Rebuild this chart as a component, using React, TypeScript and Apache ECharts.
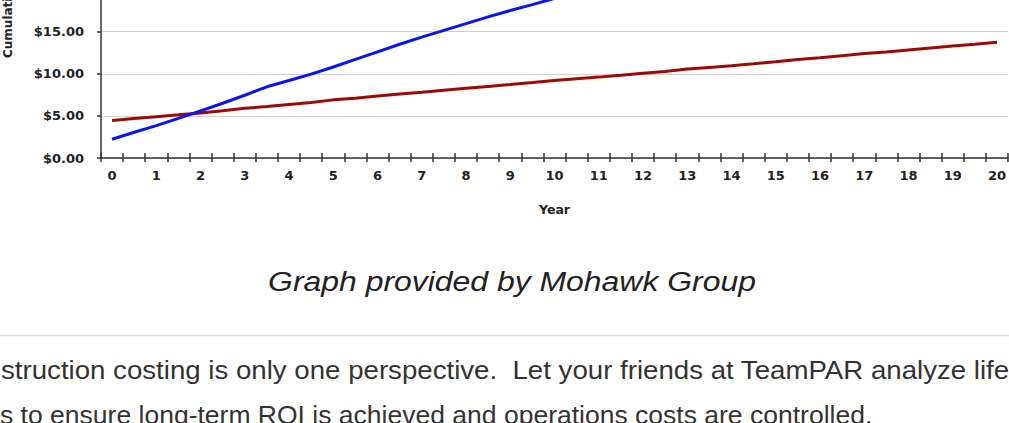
import React, { useEffect, useRef } from "react";
import * as echarts from "echarts";

const years: string[] = [
  "0", "0.5", "1", "1.5", "2", "2.5", "3", "3.5", "4", "4.5",
  "5", "5.5", "6", "6.5", "7", "7.5", "8", "8.5", "9", "9.5",
  "10", "10.5", "11", "11.5", "12", "12.5", "13", "13.5", "14", "14.5",
  "15", "15.5", "16", "16.5", "17", "17.5", "18", "18.5", "19", "19.5", "20",
];

const blueSeries: number[] = [
  2.22, 3.05, 3.85, 4.7, 5.6, 6.5, 7.45, 8.45, 9.2, 9.95,
  10.8, 11.7, 12.6, 13.5, 14.35, 15.15, 15.95, 16.75, 17.5, 18.2,
  18.95, 19.75, 20.5, 21.3, 22.1, 22.9, 23.7, 24.5, 25.3, 26.1,
  26.9, 27.7, 28.5, 29.3, 30.1, 30.9, 31.7, 32.5, 33.3, 34.1, 34.9,
];

const redSeries: number[] = [
  4.45, 4.68, 4.9, 5.12, 5.35, 5.6, 5.9, 6.1, 6.35, 6.6,
  6.9, 7.1, 7.35, 7.6, 7.8, 8.05, 8.28, 8.5, 8.72, 8.95,
  9.2, 9.4, 9.6, 9.82, 10.05, 10.28, 10.55, 10.75, 10.95, 11.18,
  11.42, 11.68, 11.9, 12.15, 12.4, 12.58, 12.82, 13.05, 13.28, 13.5, 13.75,
];

const yAxisName = "Cumulative Cost ($/SF)";
const xAxisName = "Year";
const caption = "Graph provided by Mohawk Group";
const bodyLine1 = "struction costing is only one perspective.  Let your friends at TeamPAR analyze life";
const bodyLine2 = "s to ensure long-term ROI is achieved and operations costs are controlled.";

const chartFont = "DejaVu Sans";
const textFont = "Liberation Sans";

// the chart canvas extends above the visible window (the reference is cropped at the top)
const SHIFT = 189;

export default function App() {
  const ref = useRef<HTMLDivElement>(null);

  useEffect(() => {
    if (!ref.current) return;
    const chart = echarts.init(ref.current, undefined, { renderer: "svg" });
    chart.setOption({
      animation: false,
      backgroundColor: "#ffffff",
      grid: { left: 101, top: 10, width: 907, height: 337, containLabel: false },
      xAxis: [
        {
          type: "category",
          data: years,
          boundaryGap: true,
          name: xAxisName,
          nameLocation: "middle",
          nameGap: 45,
          nameTextStyle: { fontFamily: chartFont, fontWeight: "bold", fontSize: 12.5, color: "#222" },
          axisLine: { show: true, lineStyle: { color: "#333", width: 1.5 } },
          axisTick: { show: true, interval: 0, length: 4, inside: false, lineStyle: { color: "#333", width: 1.5 } },
          axisLabel: {
            interval: 1,
            margin: 11,
            fontFamily: chartFont,
            fontWeight: "bold",
            fontSize: 13,
            color: "#222",
          },
          splitLine: { show: false },
        },
        {
          type: "category",
          data: years,
          boundaryGap: true,
          position: "bottom",
          axisLine: { show: false },
          axisTick: { show: true, interval: 0, length: 5, inside: true, lineStyle: { color: "#333", width: 1.5 } },
          axisLabel: { show: false },
          splitLine: { show: false },
        },
      ],
      yAxis: {
        type: "value",
        min: 0,
        max: 40,
        interval: 5,
        axisLine: { show: true, lineStyle: { color: "#333", width: 1.5 } },
        axisTick: { show: true, length: 4, lineStyle: { color: "#333", width: 1.5 } },
        axisLabel: {
          margin: 17,
          fontFamily: chartFont,
          fontWeight: "bold",
          fontSize: 13,
          color: "#222",
          formatter: (v: number) => "$" + v.toFixed(2),
        },
        splitLine: { show: true, lineStyle: { color: "#cfcfcf", width: 1 } },
      },
      series: [
        {
          name: "Blue",
          type: "line",
          xAxisIndex: 0,
          data: blueSeries,
          symbol: "none",
          lineStyle: { color: "#0a14f0", width: 3 },
          itemStyle: { color: "#0a14f0" },
          z: 3,
        },
        {
          name: "Red",
          type: "line",
          xAxisIndex: 0,
          data: redSeries,
          symbol: "none",
          lineStyle: { color: "#9c0a0a", width: 3 },
          itemStyle: { color: "#9c0a0a" },
          z: 2,
        },
      ],
      graphic: [
        {
          type: "text",
          x: 8,
          y: 58 + SHIFT,
          rotation: Math.PI / 2,
          style: {
            text: yAxisName,
            fontFamily: chartFont,
            fontWeight: "bold",
            fontSize: 12,
            fill: "#222",
            align: "left",
            verticalAlign: "middle",
          },
        },
        {
          type: "text",
          x: 512,
          y: 281 + SHIFT,
          scaleX: 1.14,
          style: {
            text: caption,
            fontFamily: textFont,
            fontStyle: "italic",
            fontSize: 28,
            fill: "#222",
            align: "center",
            verticalAlign: "middle",
          },
        },
        {
          type: "line",
          shape: { x1: 0, y1: 335.5 + SHIFT, x2: 1009, y2: 335.5 + SHIFT },
          style: { stroke: "#dadada", lineWidth: 1.5 },
        },
        {
          type: "text",
          x: 1,
          y: 370 + SHIFT,
          scaleX: 1.063,
          style: {
            text: bodyLine1,
            fontFamily: textFont,
            fontSize: 26,
            fill: "#333",
            align: "left",
            verticalAlign: "middle",
          },
        },
        {
          type: "text",
          x: 0,
          y: 415 + SHIFT,
          scaleX: 1.02,
          style: {
            text: bodyLine2,
            fontFamily: textFont,
            fontSize: 26,
            fill: "#333",
            align: "left",
            verticalAlign: "middle",
          },
        },
      ],
    });
    return () => chart.dispose();
  }, []);

  return (
    <div style={{ position: "absolute", left: 0, top: 0, width: 1009, height: 423, overflow: "hidden" }}>
      <div
        ref={ref}
        style={{ position: "absolute", left: 0, top: -SHIFT, width: 1009, height: 423 + SHIFT }}
      />
    </div>
  );
}
